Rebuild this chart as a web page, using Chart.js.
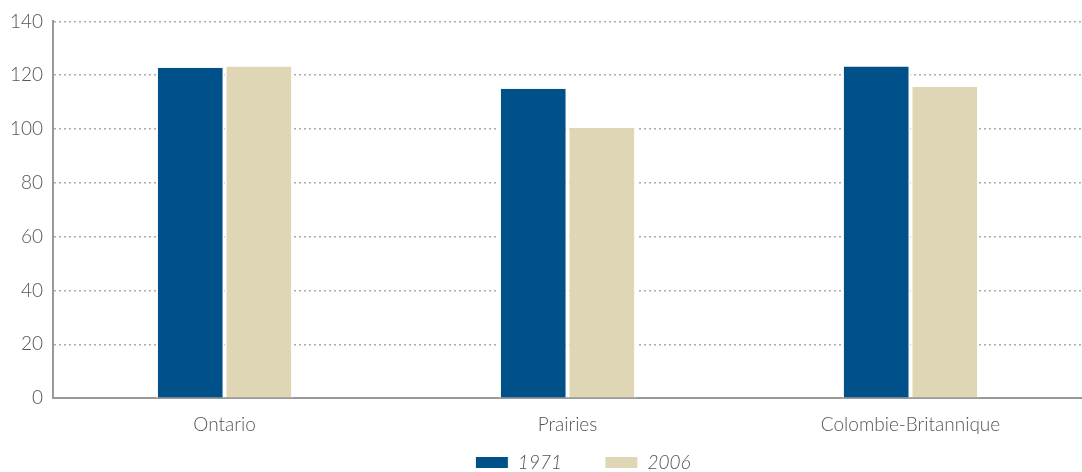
<!DOCTYPE html>
<html>
<head>
<meta charset="utf-8">
<script src="https://cdn.jsdelivr.net/npm/chart.js@4"></script>
<style>
  html, body { margin: 0; padding: 0; background: #fff; }
  #wrap { width: 1082px; height: 472px; }
</style>
</head>
<body>
<div id="wrap"><canvas id="barChart"></canvas></div>
<script>
// data
var regions = ["Ontario", "Prairies", "Colombie-Britannique"];
var values1971 = [122.8, 115.0, 123.2];
var values2006 = [123.2, 100.4, 115.7];
var yTicks = [0, 20, 40, 60, 80, 100, 120, 140];

// squeeze the legend box and move it where the original has it
var legendTweak = {
  id: "legendTweak",
  afterInit: function (chart) {
    var lg = chart.legend;
    var fit = lg.fit;
    lg.fit = function () {
      fit.call(this);
      this.height = 10;
    };
  },
  afterLayout: function (chart) {
    var lg = chart.legend;
    lg.left += 42;
    lg.right += 42;
    lg.top = 410;
    lg.bottom = 472;
  },
};

var ctx = document.getElementById("barChart").getContext("2d");
var myBarChart = new Chart(ctx, {
  type: "bar",
  data: {
    labels: regions,
    datasets: [
      {
        label: "1971",
        data: values1971,
        backgroundColor: "#00508a",
        borderColor: "#ffffff",
        borderWidth: { left: 2, right: 2, top: 0, bottom: 0 },
        borderSkipped: false,
        categoryPercentage: 0.4,
        barPercentage: 1,
      },
      {
        label: "2006",
        data: values2006,
        backgroundColor: "#ded6b4",
        borderColor: "#ffffff",
        borderWidth: { left: 2, right: 2, top: 0, bottom: 0 },
        borderSkipped: false,
        categoryPercentage: 0.4,
        barPercentage: 1,
      },
    ],
  },
  plugins: [legendTweak],
  options: {
    responsive: true,
    maintainAspectRatio: false,
    animation: false,
    layout: { padding: { top: 10, right: 0, left: 0, bottom: 11 } },
    plugins: {
      tooltip: { enabled: false },
      legend: {
        position: "bottom",
        labels: {
          color: "#555",
          font: { family: "Lato", size: 19, style: "italic", weight: "300" },
          boxWidth: 33,
          boxHeight: 12,
          padding: 43,
          useBorderRadius: false,
        },
      },
    },
    scales: {
      x: {
        grid: { display: false, drawTicks: false },
        border: { color: "#999", width: 2 },
        ticks: { color: "#555", font: { family: "Lato", size: 19, weight: "300" }, padding: 15 },
      },
      y: {
        min: 0,
        max: 140,
        afterBuildTicks: function (axis) {
          axis.ticks = yTicks.map(function (v) { return { value: v }; });
        },
        grid: { color: "#aaa", lineWidth: 1.5, drawTicks: false },
        border: { color: "#999", width: 2, dash: [2, 3] },
        ticks: { color: "#555", font: { family: "Lato", size: 19, weight: "300" }, padding: 10 },
      },
    },
  },
});
</script>
</body>
</html>
